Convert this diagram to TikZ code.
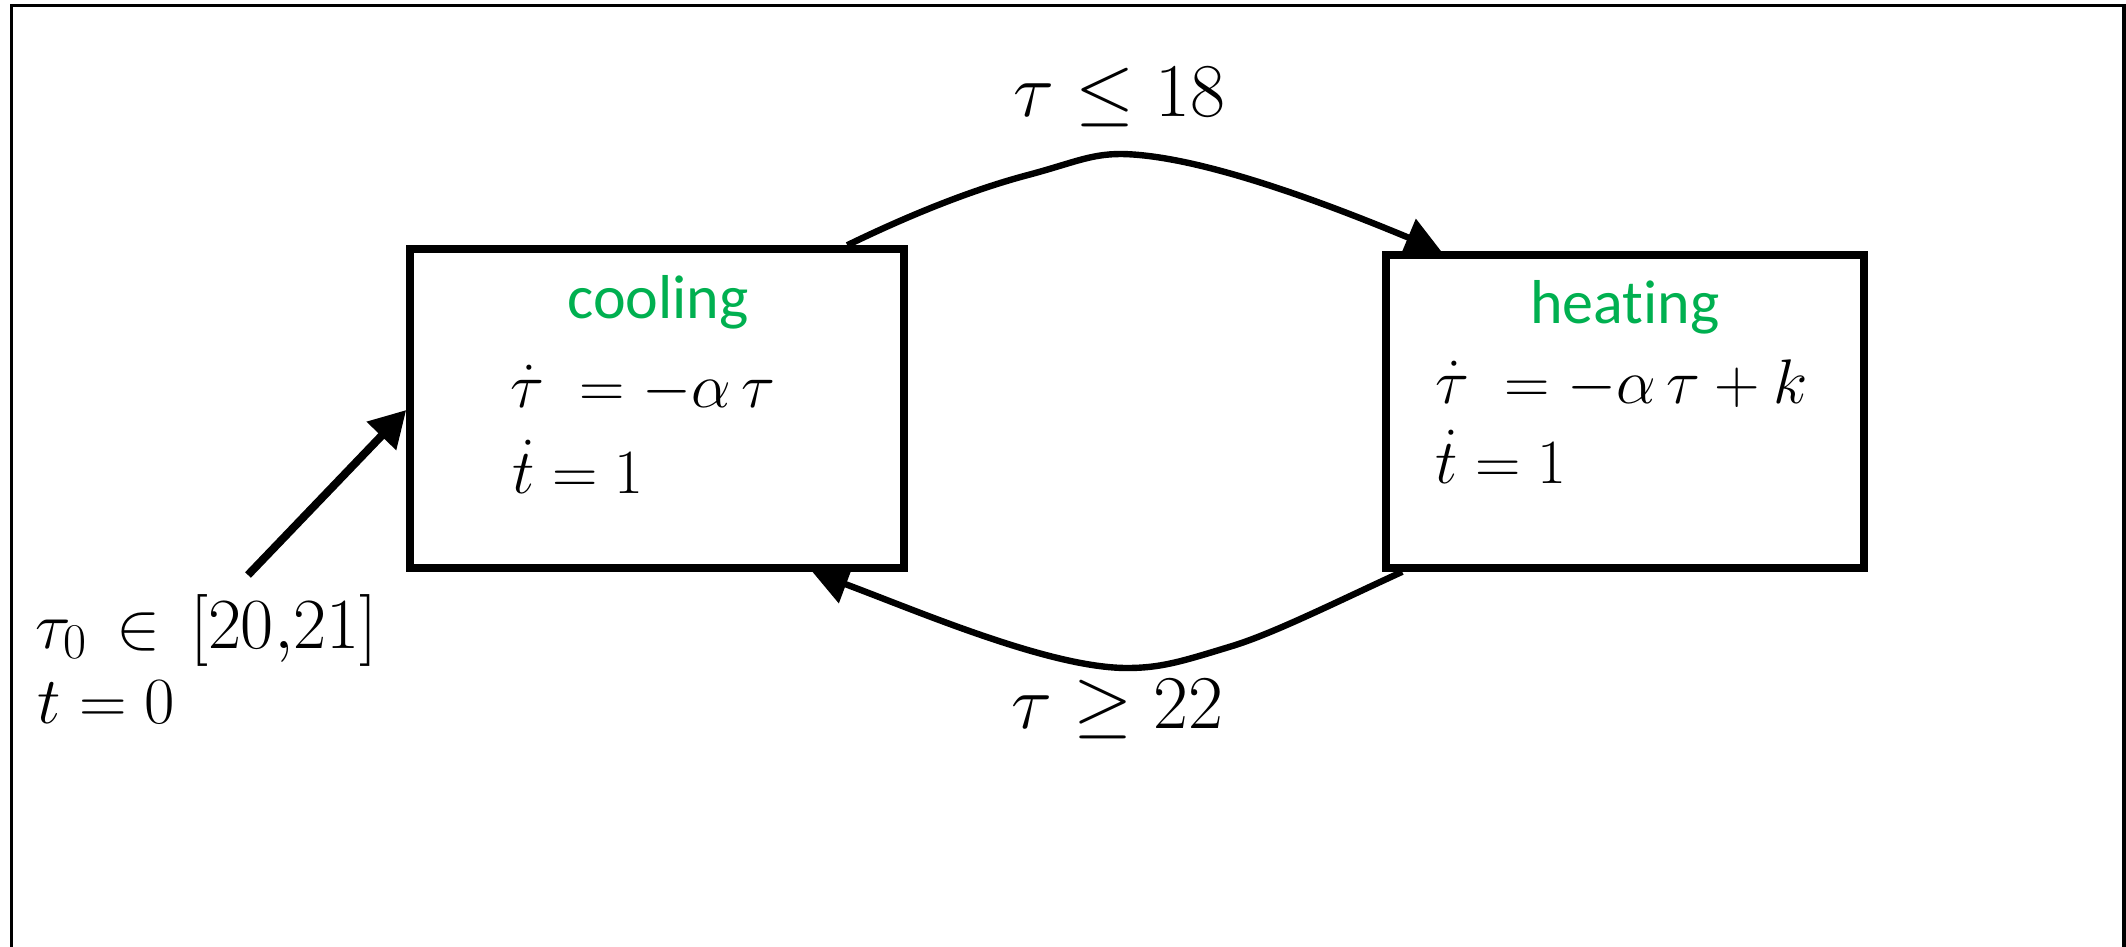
\documentclass[tikz,border=0pt]{standalone}
\usepackage{fix-cm}
\usepackage{fontspec}
\newfontfamily\calibri[Ligatures=NoCommon]{Carlito}
\usetikzlibrary{arrows.meta,calc}
\definecolor{stategreen}{RGB}{0,176,80}
\newcommand{\subzero}{\hbox{\fontsize{25pt}{25pt}\selectfont 0}}
\newcommand{\initrange}{\hbox{\fontsize{36pt}{40pt}\selectfont$[20{,}21]$}}
\begin{document}
\begin{tikzpicture}[x=0.5pt,y=-0.5pt,
  statebox/.style={draw,line width=3.75pt,fill=white,inner sep=0pt},
  modename/.style={inner sep=0pt,anchor=base,text=stategreen,font=\calibri\fontsize{31pt}{37pt}\selectfont},
  flowtext/.style={inner sep=0pt,anchor=base west,font=\fontsize{31.5pt}{38pt}\selectfont},
  guardtext/.style={inner sep=0pt,anchor=base west,font=\fontsize{38pt}{45pt}\selectfont},
  inittext/.style={inner sep=0pt,anchor=base west,font=\fontsize{33pt}{40pt}\selectfont},
  trans/.style={line width=3.2pt,-{Triangle[length=18pt,width=19.5pt]}},
  inittrans/.style={line width=4pt,-{Triangle[length=18pt,width=19.5pt]}}]
\useasboundingbox (0,0) rectangle (2126,947);
\clip (0,0) rectangle (2126,947);
\draw[line width=1.75pt] (11.5,5.5) rectangle (2124,1000);
% states
\node[statebox,minimum width=247pt,minimum height=159.5pt] (cool) at (657,408.5) {};
\node[statebox,minimum width=239pt,minimum height=156.5pt] (heat) at (1625,411.5) {};
% texts
\node[modename] (coolname) at (658,318) {cooling};
\node[flowtext] (coolflow1) at (510,407) {$\dot\tau\;=-\alpha\,\tau$};
\node[flowtext] (coolflow2) at (512,493) {$\dot t=1$};
\node[modename] (heatname) at (1625,323) {heating};
\node[flowtext] (heatflow1) at (1435,403) {$\dot\tau\;=-\alpha\,\tau+k$};
\node[flowtext] (heatflow2) at (1435,483) {$\dot t=1$};
\node[inittext] (init1) at (35,648) {$\tau_{\subzero}\,\in\,\initrange$};
\node[inittext] (init2) at (37,723) {$t=0$};
\node[guardtext] (guardtop) at (1013,117) {$\tau\leq18$};
\node[guardtext] (guardbot) at (1011,728) {$\tau\geq22$};
% transitions
\coordinate (initstart) at (248,575);
\draw[inittrans] (initstart) -- ($(cool.west)+(0,1.5)$);
\draw[trans] ($(cool.north west)+(441,0)$) .. controls (930,205) and (990,185) .. (1028,175)
  .. controls (1073,163) and (1090,154) .. (1121,154)
  .. controls (1200,155) and (1330,205) .. ($(heat.north west)+(59,0)$);
\draw[trans] ($(heat.south west)+(20,0)$) .. controls (1330,605) and (1270,635) .. (1229,647)
  .. controls (1180,662) and (1160,668) .. (1127,668)
  .. controls (1050,668) and (920,612) .. ($(cool.south west)+(406,0)$);
\end{tikzpicture}
\end{document}
